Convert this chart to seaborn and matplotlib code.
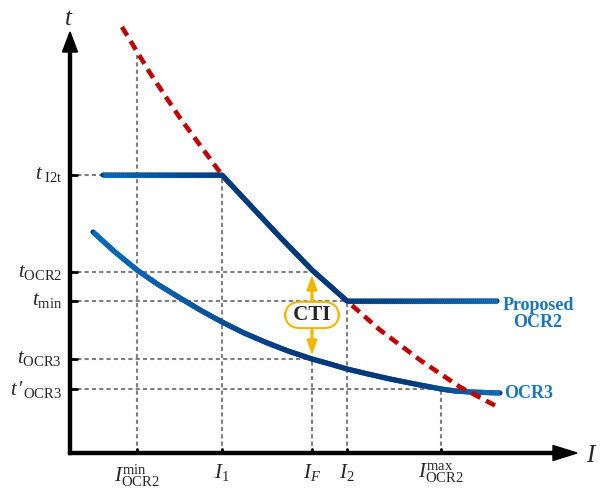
import numpy as np
import matplotlib
matplotlib.use("Agg")
import matplotlib.pyplot as plt
from matplotlib.collections import LineCollection
from matplotlib.colors import to_rgb
import seaborn as sns

# ---------------- data (current I, time t; arbitrary units) ----------------
red_I = [52, 80, 110, 152, 180, 210, 242, 277, 310, 350, 390, 426]
red_t = [426, 380, 335, 278, 248, 216, 183, 152, 123, 93, 66, 47]

ocr2_I = [33, 152, 180, 210, 242, 277, 427]
ocr2_t = [278, 278, 248, 216, 183, 152, 152]

ocr3_I = [23, 45, 67, 88, 110, 131, 152, 173, 195, 218, 242, 260, 277, 298, 320, 345, 371, 385, 400, 415, 430]
ocr3_t = [221, 201, 183, 168.5, 155, 142.5, 131, 120.5, 111, 102, 94, 89, 84, 79, 74, 69, 64, 62, 61, 60.5, 60]

xtick_vals = [67, 152, 242, 277, 371]
xtick_labels = [r"$I_{\mathrm{OCR2}}^{\mathrm{min}}$", r"$I_{\mathit{1}}$", r"$I_{F}$",
                r"$I_{\mathrm{2}}$", r"$I_{\mathrm{OCR2}}^{\mathrm{max}}$"]
ytick_vals = [278, 181, 152, 94, 64]
ytick_labels = [r"$t_{\ \mathrm{I2t}}$", r"$t_{\mathrm{OCR2}}$", r"$t_{\mathrm{min}}$",
                r"$t_{\mathrm{OCR3}}$", r"$t\mathrm{\,\prime}_{\mathrm{OCR3}}$"]
# where the guide lines stop (on the curves)
vguide_top = [400, 278, 94, 152, 64]
hguide_end = [33, 240, 277, 242, 371]
cti_I, cti_t = 242, 138

# ---------------- style ----------------
sns.set_theme(style="white")
plt.rcParams["font.family"] = ["Liberation Serif", "DejaVu Serif"]
plt.rcParams["mathtext.fontset"] = "custom"
plt.rcParams["mathtext.rm"] = "Liberation Serif"
plt.rcParams["mathtext.it"] = "Liberation Serif:italic"
plt.rcParams["mathtext.bf"] = "Liberation Serif:bold"

LIGHT = "#0570C0"
DARK = "#003A7D"
MID = "#1570BA"
RED = "#C00000"
GREY = "#7F7F7F"
GOLD = "#F2B705"

fig = plt.figure(figsize=(6.01, 4.90), dpi=100)
ax = fig.add_axes([0, 0, 1, 1])
ax.set_xlim(-70, 531)
ax.set_ylim(-37, 453)
ax.axis("off")

# guide lines
gkw = dict(color=GREY, lw=1.5, ls=(0, (2.0, 1.5)), zorder=1)
for x, top in zip(xtick_vals, vguide_top):
    ax.plot([x, x], [0, top], **gkw)
for y, end in zip(ytick_vals, hguide_end):
    ax.plot([0, end], [y, y], **gkw)


def gradient_overlay(I, t, stops_x, stops_c, lw, z):
    cols_rgb = np.array([to_rgb(c) for c in stops_c])
    segs, cols = [], []
    for i in range(len(I) - 1):
        L = np.hypot(I[i + 1] - I[i], t[i + 1] - t[i])
        n = max(1, int(L / 2))
        xs = np.linspace(I[i], I[i + 1], n + 1)
        ys = np.linspace(t[i], t[i + 1], n + 1)
        for j in range(n):
            segs.append([(xs[j], ys[j]), (xs[j + 1], ys[j + 1])])
            xm = 0.5 * (xs[j] + xs[j + 1])
            cols.append([np.interp(xm, stops_x, cols_rgb[:, k]) for k in range(3)])
    lc = LineCollection(segs, colors=cols, linewidths=lw, capstyle="butt", zorder=z)
    ax.add_collection(lc)


# OCR3
sns.lineplot(x=ocr3_I, y=ocr3_t, ax=ax, color=DARK, lw=3.7, zorder=3, sort=False)
gradient_overlay(ocr3_I, ocr3_t, [23, 110, 220, 340, 430], [LIGHT, "#0A5FAA", DARK, DARK, MID], 3.7, 3.1)

# red dashed
sns.lineplot(x=red_I, y=red_t, ax=ax, color=RED, lw=3.3, ls=(0, (2.2, 1.4)), zorder=4, sort=False)

# Proposed OCR2
sns.lineplot(x=ocr2_I, y=ocr2_t, ax=ax, color=DARK, lw=3.7, zorder=5, sort=False)
gradient_overlay(ocr2_I, ocr2_t, [33, 152, 277, 427], [LIGHT, DARK, DARK, MID], 3.7, 5.1)

# axes arrows
ax.arrow(0, -1.5, 0, 422.5, width=3, head_width=15, head_length=20,
         length_includes_head=True, color="black", zorder=6)
ax.arrow(-1.5, 0, 508.5, 0, width=3, head_width=15, head_length=24,
         length_includes_head=True, color="black", zorder=6)
ax.text(-1, 434, r"$t$", fontsize=18, ha="center", va="center")
ax.text(522, -3, r"$I$", fontsize=18, ha="center", va="center")

# ticks and labels
for y, lab in zip(ytick_vals, ytick_labels):
    ax.plot([0, 7], [y, y], color="black", lw=2, zorder=6)
    ax.text(-8, y, lab, fontsize=15, ha="right", va="center")
for x, lab in zip(xtick_vals, xtick_labels):
    ax.plot([x, x], [0, 4], color="black", lw=2, zorder=6)
    ax.text(x, -9, lab, fontsize=15, ha="center", va="top")

# CTI
ax.arrow(cti_I, cti_t, 0, 38, width=1.8, head_width=10, head_length=14,
         length_includes_head=True, color=GOLD, zorder=7)
ax.arrow(cti_I, cti_t, 0, -38, width=1.8, head_width=10, head_length=14,
         length_includes_head=True, color=GOLD, zorder=7)
ax.text(cti_I, cti_t, " CTI ", fontsize=15, fontweight="bold", ha="center", va="center", zorder=8,
        bbox=dict(boxstyle="round,pad=0.15,rounding_size=0.75", fc="white", ec=GOLD, lw=1.5))

# line labels
ax.text(468, 139, "Proposed\nOCR2", fontsize=13, fontweight="bold", color="#1A74C4",
        ha="center", va="center", linespacing=1.0)
ax.text(434, 60, "OCR3", fontsize=13, fontweight="bold", color="#1A74C4",
        ha="left", va="center")

fig.savefig("out.png", dpi=100)
